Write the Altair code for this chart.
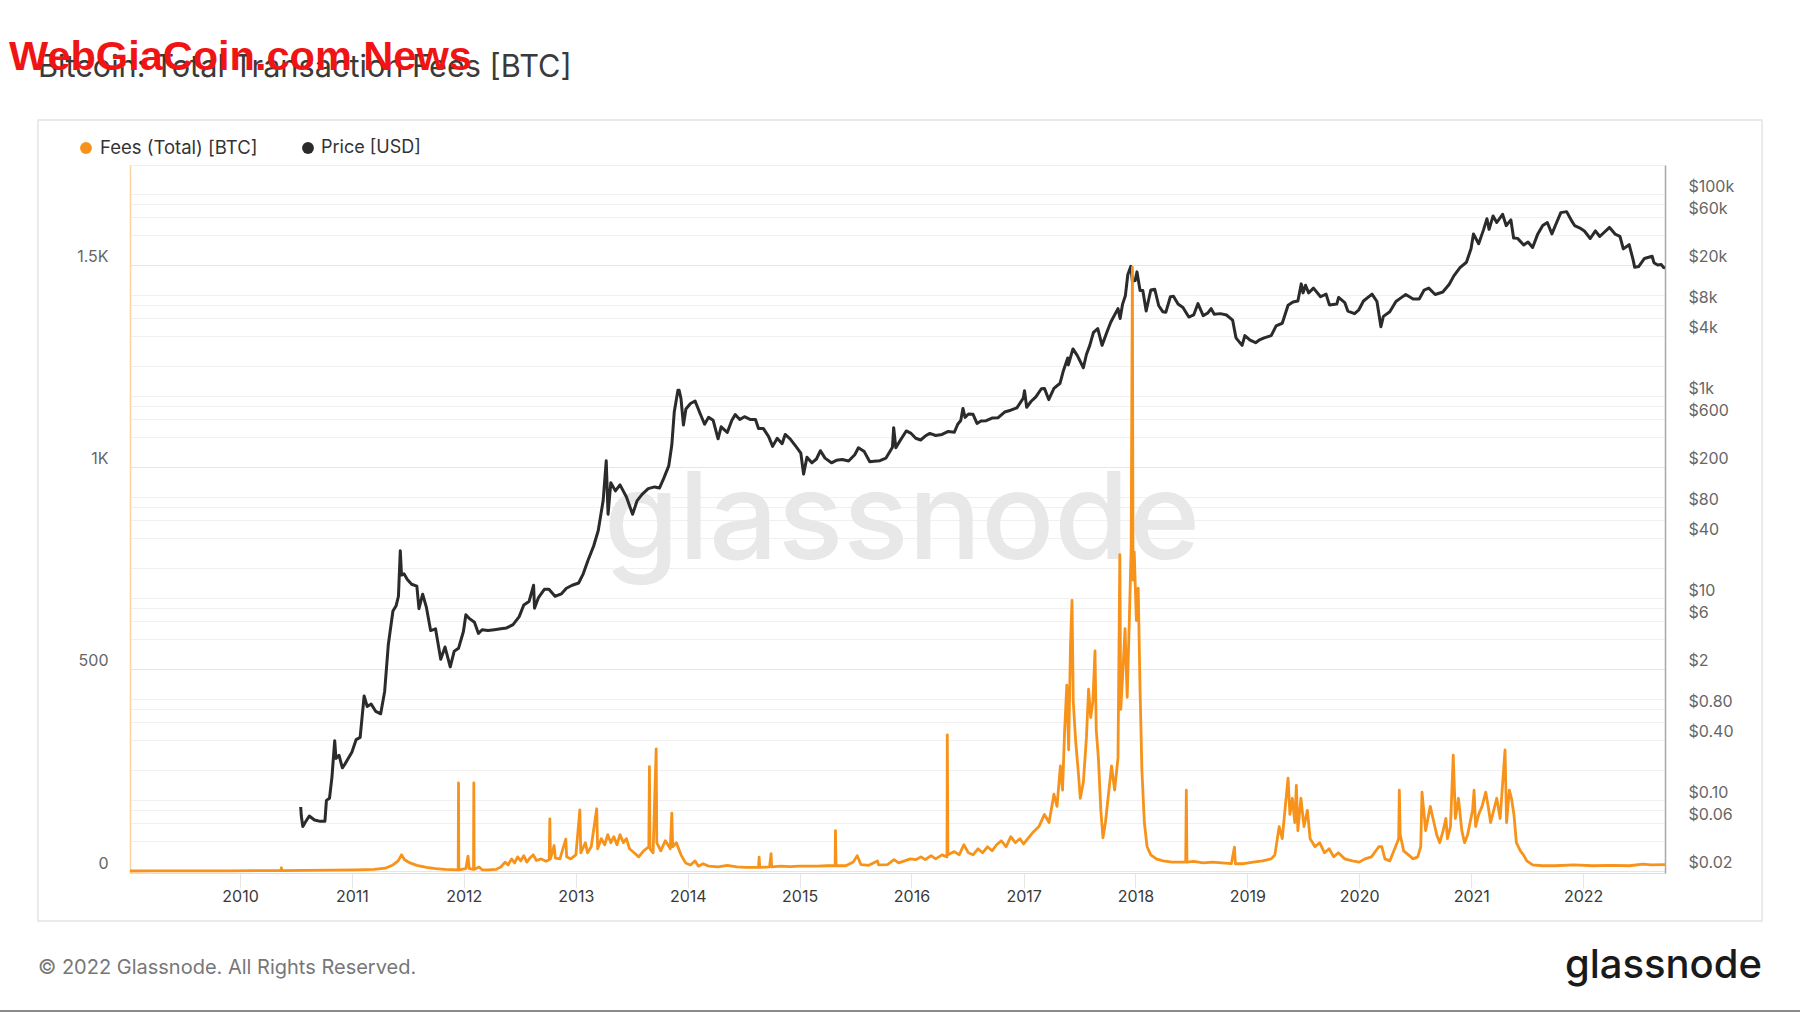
import altair as alt
import pandas as pd

# ---------------- data ----------------
price_dates = [
    "2010-07-18", "2010-07-20", "2010-07-25", "2010-08-01", "2010-08-15", "2010-09-01", "2010-09-20",
    "2010-10-05", "2010-10-10", "2010-10-20", "2010-10-28", "2010-11-06", "2010-11-10", "2010-11-20",
    "2010-12-01", "2010-12-10", "2010-12-20", "2011-01-01", "2011-01-15", "2011-01-28", "2011-02-10",
    "2011-02-20", "2011-03-05", "2011-03-20", "2011-04-05", "2011-04-18", "2011-04-30", "2011-05-15",
    "2011-05-25", "2011-06-02", "2011-06-08", "2011-06-12", "2011-06-20", "2011-07-01", "2011-07-15",
    "2011-08-01", "2011-08-08", "2011-08-20", "2011-09-01", "2011-09-15", "2011-10-01", "2011-10-18",
    "2011-11-01", "2011-11-18", "2011-12-01", "2011-12-15", "2011-12-31", "2012-01-08", "2012-01-20",
    "2012-02-05", "2012-02-18", "2012-03-01", "2012-03-20", "2012-04-10", "2012-05-01", "2012-05-20",
    "2012-06-10", "2012-06-30", "2012-07-15", "2012-08-01", "2012-08-16", "2012-08-19", "2012-09-01",
    "2012-09-20", "2012-10-05", "2012-10-25", "2012-11-15", "2012-12-01", "2012-12-20", "2013-01-10",
    "2013-01-25", "2013-02-10", "2013-02-28", "2013-03-15", "2013-03-31", "2013-04-10", "2013-04-16",
    "2013-04-25", "2013-05-10", "2013-05-25", "2013-06-15", "2013-07-05", "2013-07-20", "2013-08-05",
    "2013-08-25", "2013-09-15", "2013-10-01", "2013-10-15", "2013-10-31", "2013-11-10", "2013-11-18",
    "2013-11-30", "2013-12-04", "2013-12-10", "2013-12-18", "2013-12-26", "2014-01-10", "2014-01-25",
    "2014-02-10", "2014-02-25", "2014-03-10", "2014-03-25", "2014-04-10", "2014-04-20", "2014-05-10",
    "2014-05-25", "2014-06-05", "2014-06-20", "2014-07-05", "2014-07-25", "2014-08-10", "2014-08-20",
    "2014-09-05", "2014-09-22", "2014-10-05", "2014-10-20", "2014-11-05", "2014-11-15", "2014-12-01",
    "2014-12-20", "2015-01-05", "2015-01-14", "2015-01-25", "2015-02-10", "2015-02-25", "2015-03-10",
    "2015-03-25", "2015-04-15", "2015-05-01", "2015-05-20", "2015-06-10", "2015-06-30", "2015-07-12",
    "2015-07-31", "2015-08-18", "2015-09-01", "2015-09-20", "2015-10-10", "2015-10-31", "2015-11-04",
    "2015-11-11", "2015-11-25", "2015-12-15", "2015-12-31", "2016-01-15", "2016-01-31", "2016-02-15",
    "2016-03-01", "2016-03-20", "2016-04-10", "2016-04-30", "2016-05-20", "2016-05-31", "2016-06-10",
    "2016-06-17", "2016-06-24", "2016-07-05", "2016-07-20", "2016-08-02", "2016-08-15", "2016-09-01",
    "2016-09-20", "2016-10-10", "2016-10-31", "2016-11-20", "2016-12-10", "2016-12-31", "2017-01-04",
    "2017-01-11", "2017-01-25", "2017-02-10", "2017-02-28", "2017-03-10", "2017-03-24", "2017-04-10",
    "2017-04-30", "2017-05-10", "2017-05-25", "2017-05-27", "2017-06-11", "2017-06-25", "2017-07-15",
    "2017-07-25", "2017-08-05", "2017-08-17", "2017-08-31", "2017-09-14", "2017-09-30", "2017-10-12",
    "2017-10-20", "2017-11-05", "2017-11-12", "2017-11-20", "2017-11-29", "2017-12-07", "2017-12-17",
    "2017-12-22", "2017-12-31", "2018-01-06", "2018-01-16", "2018-01-25", "2018-02-05", "2018-02-20",
    "2018-03-05", "2018-03-18", "2018-03-31", "2018-04-10", "2018-04-25", "2018-05-05", "2018-05-20",
    "2018-06-05", "2018-06-24", "2018-07-10", "2018-07-24", "2018-08-10", "2018-08-25", "2018-09-05",
    "2018-09-15", "2018-10-05", "2018-10-25", "2018-11-14", "2018-11-25", "2018-12-15", "2018-12-24",
    "2019-01-10", "2019-01-28", "2019-02-08", "2019-02-25", "2019-03-20", "2019-04-05", "2019-04-25",
    "2019-05-14", "2019-05-30", "2019-06-15", "2019-06-26", "2019-07-02", "2019-07-10", "2019-07-20",
    "2019-08-05", "2019-08-28", "2019-09-15", "2019-09-26", "2019-10-20", "2019-10-26", "2019-11-15",
    "2019-11-25", "2019-12-17", "2019-12-31", "2020-01-15", "2020-02-12", "2020-02-28", "2020-03-12",
    "2020-03-20", "2020-04-10", "2020-04-30", "2020-05-15", "2020-06-01", "2020-06-25", "2020-07-15",
    "2020-07-31", "2020-08-15", "2020-09-05", "2020-09-30", "2020-10-21", "2020-11-05", "2020-11-25",
    "2020-12-16", "2020-12-31", "2021-01-08", "2021-01-25", "2021-02-10", "2021-02-21", "2021-02-28",
    "2021-03-13", "2021-03-25", "2021-04-13", "2021-04-25", "2021-05-10", "2021-05-19", "2021-06-01",
    "2021-06-21", "2021-07-05", "2021-07-20", "2021-08-05", "2021-08-22", "2021-09-06", "2021-09-21",
    "2021-10-05", "2021-10-20", "2021-11-08", "2021-11-26", "2021-12-04", "2021-12-20", "2022-01-05",
    "2022-01-24", "2022-02-10", "2022-02-24", "2022-03-28", "2022-04-15", "2022-05-01", "2022-05-12",
    "2022-05-31", "2022-06-13", "2022-06-18", "2022-07-01", "2022-07-20", "2022-08-14", "2022-08-20",
    "2022-09-01", "2022-09-13", "2022-09-20", "2022-09-25",
]
price_values = [
    0.086, 0.07, 0.055, 0.06, 0.07, 0.064, 0.062,
    0.062, 0.10, 0.105, 0.17, 0.39, 0.26, 0.28,
    0.21, 0.23, 0.26, 0.30, 0.40, 0.42, 1.08,
    0.85, 0.90, 0.76, 0.72, 1.20, 3.5, 7.5,
    8.4, 10.5, 29.6, 17, 17.5, 15.4, 13.8,
    13.2, 7.9, 11, 8.2, 4.8, 5.0, 2.5,
    3.3, 2.1, 3.0, 3.2, 4.7, 6.9, 6.3,
    5.8, 4.5, 4.9, 4.8, 4.9, 5.0, 5.1,
    5.5, 6.6, 8.6, 9.3, 13.5, 8.0, 10.2,
    12.3, 12.3, 10.5, 11.1, 12.6, 13.5, 14.2,
    17.5, 24, 33, 47, 93, 230, 68,
    140, 116, 133, 101, 68, 93, 107,
    122, 127, 124, 155, 205, 330, 700,
    1150, 1150, 950, 520, 750, 850, 900,
    680, 530, 620, 580, 380, 500, 440,
    580, 660, 590, 630, 590, 590, 480,
    480, 400, 320, 385, 340, 420, 380,
    320, 275, 170, 250, 220, 240, 290,
    245, 220, 233, 237, 229, 264, 310,
    284, 225, 228, 231, 245, 314, 490,
    310, 365, 455, 430, 385, 370, 405,
    430, 410, 420, 450, 442, 530, 577,
    760, 620, 670, 665, 540, 570, 575,
    610, 615, 700, 730, 770, 960, 1140,
    780, 890, 990, 1190, 1200, 930, 1200,
    1350, 1760, 2400, 2050, 2950, 2550, 1920,
    2600, 3200, 4300, 4700, 3200, 4350, 5400,
    6000, 7400, 5900, 8200, 9900, 16000, 19400,
    13800, 14000, 17100, 11200, 11200, 7000, 11300,
    11500, 7900, 6900, 6800, 9700, 9800, 8200,
    7600, 6100, 6400, 8300, 6300, 6700, 7400,
    6500, 6600, 6400, 5700, 3800, 3200, 4000,
    3600, 3400, 3600, 3800, 4000, 5000, 5300,
    8000, 8600, 8800, 13000, 10600, 12600, 10600,
    11800, 9700, 10300, 8050, 8200, 9550, 8500,
    7000, 6600, 7200, 8800, 10300, 8700, 4900,
    6200, 6900, 8700, 9400, 10200, 9200, 9200,
    11300, 11800, 10200, 10800, 12900, 15600, 18800,
    21300, 29000, 40500, 32500, 44800, 57500, 45100,
    61200, 52700, 63500, 49000, 56000, 37000, 36700,
    31600, 33800, 29800, 40000, 49300, 52700, 40700,
    51500, 66000, 67500, 53700, 49200, 46700, 43400,
    36600, 43500, 38300, 47100, 40500, 38500, 28900,
    31800, 22500, 19000, 19300, 23200, 24400, 21100,
    20000, 20200, 18900, 18800,
]

fee_dates = [
    "2009-01-07", "2009-04-01", "2009-08-01", "2009-12-01", "2010-03-01", "2010-05-14", "2010-05-16",
    "2010-05-18", "2010-08-01", "2010-11-01", "2011-01-15", "2011-03-15", "2011-04-20", "2011-05-15",
    "2011-06-01", "2011-06-12", "2011-06-22", "2011-07-10", "2011-08-01", "2011-09-01", "2011-10-01",
    "2011-11-01", "2011-12-14", "2011-12-15", "2011-12-16", "2012-01-08", "2012-01-15", "2012-01-19",
    "2012-02-02", "2012-02-03", "2012-02-04", "2012-02-20", "2012-03-01", "2012-03-20", "2012-04-15",
    "2012-05-01", "2012-05-15", "2012-05-25", "2012-06-05", "2012-06-15", "2012-06-25", "2012-07-05",
    "2012-07-15", "2012-07-25", "2012-08-05", "2012-08-15", "2012-08-25", "2012-09-10", "2012-09-25",
    "2012-10-06", "2012-10-08", "2012-10-10", "2012-10-22", "2012-10-26", "2012-11-10", "2012-11-29",
    "2012-12-02", "2012-12-15", "2013-01-01", "2013-01-14", "2013-01-17", "2013-02-01", "2013-02-08",
    "2013-02-20", "2013-03-10", "2013-03-13", "2013-03-25", "2013-04-05", "2013-04-15", "2013-04-25",
    "2013-05-05", "2013-05-15", "2013-05-25", "2013-06-05", "2013-06-15", "2013-06-25", "2013-07-10",
    "2013-07-25", "2013-08-10", "2013-08-27", "2013-08-29", "2013-08-31", "2013-09-10", "2013-09-20",
    "2013-09-22", "2013-10-05", "2013-10-20", "2013-11-05", "2013-11-10", "2013-11-13", "2013-11-25",
    "2013-12-10", "2013-12-25", "2014-01-10", "2014-01-25", "2014-02-05", "2014-02-20", "2014-03-10",
    "2014-04-10", "2014-05-10", "2014-06-10", "2014-07-10", "2014-08-20", "2014-08-22", "2014-08-24",
    "2014-09-25", "2014-09-30", "2014-10-02", "2014-11-01", "2014-12-01", "2015-01-01", "2015-02-01",
    "2015-03-01", "2015-04-01", "2015-04-27", "2015-04-28", "2015-04-30", "2015-06-01", "2015-06-25",
    "2015-07-08", "2015-07-20", "2015-08-15", "2015-09-12", "2015-09-16", "2015-10-15", "2015-11-05",
    "2015-11-20", "2015-12-10", "2015-12-28", "2016-01-15", "2016-02-01", "2016-02-15", "2016-03-05",
    "2016-03-20", "2016-04-10", "2016-04-26", "2016-04-27", "2016-04-29", "2016-05-20", "2016-06-05",
    "2016-06-20", "2016-07-05", "2016-07-20", "2016-08-05", "2016-08-20", "2016-09-05", "2016-09-20",
    "2016-10-05", "2016-10-20", "2016-11-05", "2016-11-20", "2016-12-05", "2016-12-20", "2017-01-01",
    "2017-02-01", "2017-02-20", "2017-03-10", "2017-03-25", "2017-04-10", "2017-04-20", "2017-05-01",
    "2017-05-08", "2017-05-15", "2017-05-22", "2017-05-28", "2017-06-03", "2017-06-08", "2017-06-12",
    "2017-06-20", "2017-06-28", "2017-07-05", "2017-07-15", "2017-07-25", "2017-08-01", "2017-08-08",
    "2017-08-15", "2017-08-22", "2017-08-26", "2017-09-02", "2017-09-10", "2017-09-17", "2017-09-25",
    "2017-10-05", "2017-10-15", "2017-10-25", "2017-11-05", "2017-11-11", "2017-11-14", "2017-11-20",
    "2017-11-28", "2017-12-05", "2017-12-12", "2017-12-18", "2017-12-22", "2017-12-24", "2017-12-28",
    "2018-01-04", "2018-01-10", "2018-01-16", "2018-01-22", "2018-01-30", "2018-02-08", "2018-02-20",
    "2018-03-10", "2018-04-01", "2018-05-01", "2018-06-14", "2018-06-16", "2018-06-18", "2018-07-10",
    "2018-08-10", "2018-09-10", "2018-10-10", "2018-11-10", "2018-11-20", "2018-11-23", "2018-12-20",
    "2019-01-20", "2019-02-20", "2019-03-20", "2019-04-01", "2019-04-15", "2019-04-25", "2019-05-05",
    "2019-05-14", "2019-05-20", "2019-05-28", "2019-06-05", "2019-06-10", "2019-06-15", "2019-06-25",
    "2019-07-05", "2019-07-16", "2019-07-25", "2019-08-10", "2019-08-25", "2019-09-10", "2019-09-25",
    "2019-10-10", "2019-10-25", "2019-11-15", "2019-12-10", "2020-01-01", "2020-01-20", "2020-02-10",
    "2020-03-05", "2020-03-15", "2020-03-25", "2020-04-10", "2020-05-09", "2020-05-11", "2020-05-14",
    "2020-05-25", "2020-06-10", "2020-06-25", "2020-07-10", "2020-07-20", "2020-07-24", "2020-08-05",
    "2020-08-20", "2020-09-01", "2020-09-10", "2020-09-20", "2020-10-01", "2020-10-10", "2020-10-15",
    "2020-10-25", "2020-11-03", "2020-11-10", "2020-11-20", "2020-12-01", "2020-12-10", "2020-12-20",
    "2021-01-05", "2021-01-10", "2021-01-15", "2021-01-25", "2021-02-05", "2021-02-17", "2021-02-25",
    "2021-03-05", "2021-03-15", "2021-03-25", "2021-04-05", "2021-04-21", "2021-04-26", "2021-05-05",
    "2021-05-12", "2021-05-20", "2021-05-28", "2021-06-10", "2021-06-20", "2021-07-01", "2021-07-20",
    "2021-08-20", "2021-10-01", "2021-12-01", "2022-02-01", "2022-04-01", "2022-06-01", "2022-07-15",
    "2022-08-10", "2022-09-25",
]
fee_values = [
    0, 0.3, 0.3, 0.5, 0.8, 1, 8,
    1, 1.5, 2, 3, 4, 7, 15,
    25, 40, 28, 20, 14, 9, 6,
    4, 3, 218, 3, 6, 37, 6,
    4, 218, 4, 10, 3, 3, 4,
    10, 22, 15, 30, 20, 35, 25,
    38, 22, 33, 40, 26, 30, 24,
    28, 129, 30, 63, 32, 30, 79,
    35, 30, 40, 151, 45, 70, 45,
    60, 154, 55, 80, 65, 90, 70,
    85, 65, 90, 70, 80, 55, 45,
    35, 50, 60, 258, 55, 45, 302,
    70, 50, 75, 55, 143, 60, 70,
    40, 20, 15, 25, 12, 18, 12,
    10, 14, 10, 9, 9, 34, 9,
    10, 43, 10, 12, 11, 12, 12,
    12, 13, 13, 100, 13, 13, 22,
    38, 16, 14, 25, 15, 16, 28,
    20, 25, 30, 28, 35, 28, 38,
    30, 40, 35, 337, 40, 48, 40,
    65, 45, 40, 55, 45, 60, 50,
    65, 75, 60, 85, 70, 80, 67,
    96, 110, 140, 120, 190, 160, 260,
    200, 350, 460, 300, 560, 670, 420,
    320, 250, 180, 220, 330, 450, 380,
    420, 545, 350, 280, 150, 82, 120,
    190, 260, 200, 280, 783, 400, 480,
    600, 430, 620, 800, 1494, 720, 790,
    620, 700, 450, 250, 120, 60, 40,
    30, 25, 22, 22, 200, 22, 24,
    20, 22, 20, 18, 59, 18, 18,
    22, 25, 30, 40, 110, 80, 160,
    230, 140, 180, 120, 212, 100, 180,
    110, 150, 80, 60, 70, 45, 55,
    35, 45, 30, 25, 22, 30, 35,
    60, 60, 30, 25, 80, 200, 90,
    50, 40, 30, 35, 60, 195, 100,
    160, 120, 90, 70, 100, 130, 80,
    110, 287, 130, 180, 100, 70, 90,
    150, 200, 110, 140, 160, 195, 160,
    120, 150, 180, 130, 300, 120, 200,
    180, 140, 70, 50, 40, 25, 15,
    13, 13, 15, 13, 14, 13, 17,
    15, 16,
]

year_ticks = list(range(2010, 2023))
fee_ticks = [0, 500, 1000, 1500]
price_grid = [0.02, 0.04, 0.06, 0.08, 0.1, 0.2, 0.4, 0.6, 0.8, 1, 2, 4, 6, 8, 10, 20, 40, 60, 80,
              100, 200, 400, 600, 800, 1000, 2000, 4000, 6000, 8000, 10000, 20000, 40000, 60000,
              80000, 100000]
price_labeled = [0.02, 0.06, 0.1, 0.4, 0.8, 2, 6, 10, 40, 80, 200, 600, 1000, 4000, 8000, 20000,
                 60000, 100000]

title_text = "Bitcoin: Total Transaction Fees [BTC]"
overlay_text = "WebGiaCoin.com News"
legend_labels = ["Fees (Total) [BTC]", "Price [USD]"]
footer_text = "\u00a9 2022 Glassnode. All Rights Reserved."
brand_text = "glassnode"

# ---------------- chart ----------------
FONT = "Inter"
ORANGE = "#f7931a"
DARK = "#2b2b2b"
W, H = 1535, 708

price_df = pd.DataFrame({"date": price_dates, "price": price_values})
fee_df = pd.DataFrame({"date": fee_dates, "fees": fee_values})

x_enc = alt.X(
    "date:T",
    scale=alt.Scale(
        type="utc",
        domain=[alt.DateTime(year=2009, month=1, date=7, utc=True),
                alt.DateTime(year=2022, month=9, date=25, utc=True)],
        nice=False,
    ),
    axis=alt.Axis(
        values=[alt.DateTime(year=y, month=1, date=1, utc=True) for y in year_ticks],
        labelExpr="utcFormat(datum.value, '%Y')",
        grid=False, ticks=True, tickSize=15, tickColor="#e6e6e6", tickWidth=1,
        domainColor="#dddddd", domainWidth=1,
        labelFont=FONT, labelFontSize=16, labelColor="#3a3a3a", labelPadding=0,
        title=None,
    ),
)

price_labels_js = "[" + ",".join(repr(v) for v in price_labeled) + "]"
price_label_expr = (
    f"indexof({price_labels_js}, datum.value) < 0 ? '' : "
    "(datum.value >= 1000 ? '$' + (datum.value / 1000) + 'k' : "
    "(datum.value >= 1 ? '$' + datum.value : '$' + format(datum.value, '.2f')))"
)

price_line = alt.Chart(price_df).mark_line(color=DARK, strokeWidth=3, strokeJoin="round").encode(
    x=x_enc,
    y=alt.Y(
        "price:Q",
        scale=alt.Scale(type="log", domain=[0.0191, 195500], nice=False),
        axis=alt.Axis(
            orient="right", values=price_grid, labelExpr=price_label_expr,
            grid=True, gridColor="#f0f0f0", gridWidth=1,
            ticks=False, domainColor="#a8a8a8", domainWidth=1.5,
            labelFont=FONT, labelFontSize=16, labelColor="#666666",
            labelPadding=23, labelOffset=-8, labelOverlap=False, labelAlign="left",
            title=None,
        ),
    ),
)

fee_line = alt.Chart(fee_df).mark_line(color=ORANGE, strokeWidth=2.8, strokeJoin="round").encode(
    x=x_enc,
    y=alt.Y(
        "fees:Q",
        scale=alt.Scale(domain=[-4.95, 1747.5], nice=False, zero=False),
        axis=alt.Axis(
            orient="left", values=fee_ticks,
            labelExpr="datum.value == 0 ? '0' : (datum.value < 1000 ? '' + datum.value : (datum.value / 1000) + 'K')",
            grid=True, gridColor="#e6e6e6", gridWidth=1,
            ticks=False, domainColor="#fcd3a1", domainWidth=1.5,
            labelFont=FONT, labelFontSize=16, labelColor="#666666",
            labelPadding=22, labelOffset=-8, labelOverlap=False,
            title=None,
        ),
    ),
)

one = alt.Data(values=[{"k": 1}])


def txt(text, x, y, size, color, weight="normal", align="left", font=FONT, baseline="middle"):
    return alt.Chart(one).mark_text(
        text=text, align=align, baseline=baseline, fontSize=size, color=color,
        font=font, fontWeight=weight,
    ).encode(x=alt.value(x), y=alt.value(y))


box = alt.Chart(one).mark_rect(fillOpacity=0, stroke="#e4e4e4", strokeWidth=1.5).encode(
    x=alt.value(-92), x2=alt.value(1632), y=alt.value(-45), y2=alt.value(756)
)
bottom_rule = alt.Chart(one).mark_rule(color="#8a8a8a", strokeWidth=2).encode(
    x=alt.value(-130), x2=alt.value(1670), y=alt.value(846)
)
watermark = txt(brand_text, 772, 394, 121, "#e8e8e8", weight=500, align="center", baseline="alphabetic")

title = txt(title_text, -92, -97, 30.7, "#3a3a3a")
overlay = txt(overlay_text, -121, -107, 41.5, "#f01414", weight="bold", font="Liberation Sans")

dot_fee = alt.Chart(one).mark_point(filled=True, shape="circle", size=140, color=ORANGE, opacity=1).encode(
    x=alt.value(-44), y=alt.value(-17))
lab_fee = txt(legend_labels[0], -30, -17, 18.5, "#333333")
dot_price = alt.Chart(one).mark_point(filled=True, shape="circle", size=140, color=DARK, opacity=1).encode(
    x=alt.value(178), y=alt.value(-17))
lab_price = txt(legend_labels[1], 191, -17, 18, "#333333")

footer = txt(footer_text, -92, 803, 20, "#777777")
brand = txt(brand_text, 1632, 801, 40, "#1a1a1a", weight=500, align="right")

chart = alt.layer(
    box, watermark, price_line, fee_line, title, overlay,
    dot_fee, lab_fee, dot_price, lab_price, footer, brand, bottom_rule,
).resolve_scale(y="independent").properties(
    width=W, height=H,
    autosize=alt.AutoSizeParams(type="none"),
    padding={"left": 130, "top": 165, "right": 135, "bottom": 140},
    background="white",
).configure_view(stroke="#eeeeee", strokeWidth=1)

chart.save("out.html", embed_options={"renderer": "svg", "actions": False})
